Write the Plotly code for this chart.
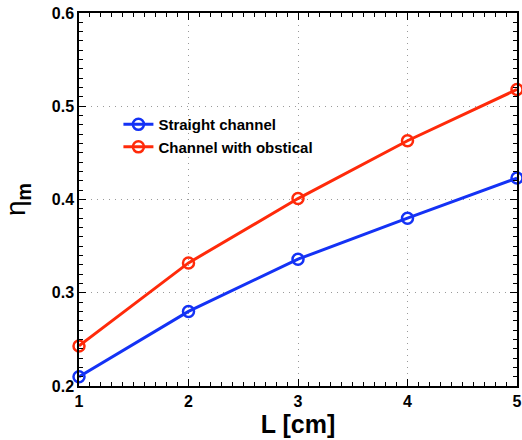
import plotly.graph_objects as go

L_cm = [1, 2, 3, 4, 5]
straight = [0.210, 0.280, 0.336, 0.380, 0.423]
obstacle = [0.243, 0.332, 0.401, 0.463, 0.518]
x_ticks = [1, 2, 3, 4, 5]
y_ticks = [0.2, 0.3, 0.4, 0.5, 0.6]

BLUE = "#1432F5"
RED = "#FF2A0A"
FONT = "Liberation Sans, Arial, sans-serif"

fig = go.Figure()
fig.add_trace(go.Scatter(
    x=L_cm, y=straight, mode="lines+markers", name="Straight channel",
    line=dict(color=BLUE, width=3),
    marker=dict(symbol="circle-open", size=11, color=BLUE, line=dict(width=2.5, color=BLUE)),
    cliponaxis=False,
))
fig.add_trace(go.Scatter(
    x=L_cm, y=obstacle, mode="lines+markers", name="Channel with obstical",
    line=dict(color=RED, width=3),
    marker=dict(symbol="circle-open", size=11, color=RED, line=dict(width=2.5, color=RED)),
    cliponaxis=False,
))

axis_common = dict(
    showline=True, linecolor="black", linewidth=1.5, mirror="allticks",
    ticks="inside", ticklen=7, tickwidth=1.3, tickcolor="black",
    showgrid=True, gridcolor="#9a9a9a", griddash="1px,5px", gridwidth=1,
    zeroline=False, automargin=False,
    tickfont=dict(family=FONT, size=16, color="black", weight="bold"),
)

fig.update_xaxes(
    range=[x_ticks[0], x_ticks[-1]], tickmode="linear",
    tick0=x_ticks[0], dtick=x_ticks[1] - x_ticks[0],
    minor=dict(ticks="inside", ticklen=4, dtick=0.1,
               tickcolor="black", tickwidth=1.1, showgrid=False),
    title=dict(text="<b>L [cm]</b>", font=dict(family=FONT, size=25, color="black"), standoff=4),
    **axis_common,
)
fig.update_yaxes(
    range=[y_ticks[0], y_ticks[-1]], tickmode="linear",
    tick0=y_ticks[0], dtick=0.1, tickformat=".1f",
    minor=dict(ticks="inside", ticklen=4, dtick=0.01,
               tickcolor="black", tickwidth=1.1, showgrid=False),
    title=dict(text="η<sub><b>m</b></sub>", font=dict(family=FONT, size=28, color="black"), standoff=22),
    **axis_common,
)

fig.update_layout(
    width=522, height=440,
    margin=dict(l=79, r=5, t=13, b=54, autoexpand=False),
    plot_bgcolor="white", paper_bgcolor="white",
    showlegend=True,
    legend=dict(
        x=0.09, y=0.745, xanchor="left", yanchor="top",
        bgcolor="rgba(255,255,255,0)", borderwidth=0,
        font=dict(family=FONT, size=15, color="black", weight="bold"),
        itemwidth=30, tracegroupgap=0,
    ),
)

fig.write_html("out.html", config={"displayModeBar": False},
               post_script="document.body.style.margin='0';document.body.style.padding='0';")
